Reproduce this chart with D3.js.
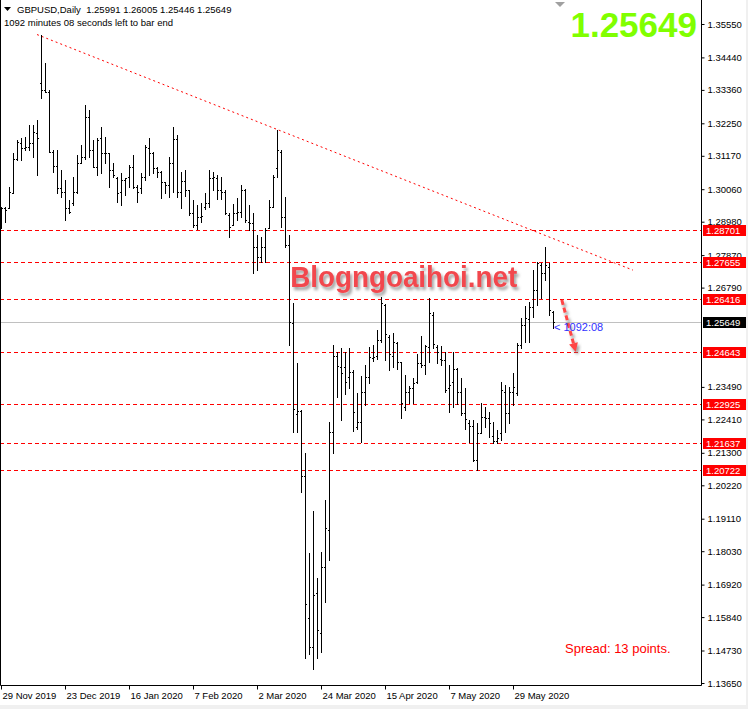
<!DOCTYPE html>
<html lang="en">
<head>
<meta charset="utf-8">
<title>GBPUSD,Daily</title>
<script src="https://cdn.jsdelivr.net/npm/d3@7"></script>
<style>
    body { margin: 0; background: #f0f0f0; }
    svg { display: block; }
    text { font-family: "Liberation Sans", Arial, sans-serif; }
</style>
</head>
<body>
<div id="chart"></div>
<script>
// daily bars, first bar 29 Nov 2019, last bar 12 Jun 2020 (one entry per trading day)
var opens = [
    1.2905, 1.2942, 1.2942, 1.2992, 1.3105, 1.3158, 1.3142, 1.3147, 1.3158, 1.3192,
    1.3358, 1.3336, 1.3330, 1.3131, 1.3083, 1.3009, 1.2998, 1.2942, 1.2959, 1.2998,
    1.3092, 1.3114, 1.3247, 1.3136, 1.3081, 1.3175, 1.3125, 1.3125, 1.3070, 1.3042,
    1.2998, 1.3037, 1.3048, 1.3081, 1.3014, 1.3009, 1.3048, 1.3142, 1.3125, 1.3075,
    1.3064, 1.3031, 1.3020, 1.3094, 1.3172, 1.2998, 1.3033, 1.3003, 1.2928, 1.2887,
    1.2915, 1.2948, 1.2961, 1.3042, 1.3042, 1.3003, 1.2998, 1.2920, 1.2887, 1.2926,
    1.2931, 1.3003, 1.2898, 1.2893, 1.2815, 1.2782, 1.2815, 1.2876, 1.2948, 1.3075,
    1.3131, 1.2915, 1.2821, 1.2560, 1.2259, 1.2268, 1.2053, 1.1580, 1.1485, 1.1665,
    1.1532, 1.1751, 1.1873, 1.2198, 1.2452, 1.2416, 1.2414, 1.2383, 1.2400, 1.2217,
    1.2231, 1.2333, 1.2383, 1.2446, 1.2452, 1.2505, 1.2621, 1.2516, 1.2452, 1.2494,
    1.2433, 1.2283, 1.2333, 1.2346, 1.2366, 1.2427, 1.2422, 1.2483, 1.2588, 1.2483,
    1.2441, 1.2438, 1.2344, 1.2366, 1.2407, 1.2333, 1.2261, 1.2228, 1.2220, 1.2106,
    1.2195, 1.2250, 1.2245, 1.2186, 1.2170, 1.2195, 1.2333, 1.2261, 1.2333, 1.2328,
    1.2488, 1.2555, 1.2574, 1.2616, 1.2671, 1.2754, 1.2726, 1.2749, 1.25991
];
var highs = [
    1.2948, 1.2948, 1.3014, 1.3125, 1.3170, 1.3175, 1.3181, 1.3219, 1.3219, 1.3236,
    1.3518, 1.3424, 1.3336, 1.3136, 1.3136, 1.3070, 1.3037, 1.2970, 1.3048, 1.3120,
    1.3153, 1.3286, 1.3269, 1.3170, 1.3175, 1.3214, 1.3181, 1.3125, 1.3092, 1.3048,
    1.3059, 1.3042, 1.3086, 1.3120, 1.3020, 1.3059, 1.3153, 1.3175, 1.3131, 1.3081,
    1.3066, 1.3031, 1.3114, 1.3214, 1.3186, 1.3064, 1.3070, 1.3003, 1.2970, 1.2953,
    1.2959, 1.2994, 1.3070, 1.3064, 1.3053, 1.3048, 1.3003, 1.2926, 1.2957, 1.2976,
    1.3020, 1.3006, 1.2953, 1.2926, 1.2854, 1.2848, 1.2876, 1.2970, 1.3053, 1.3203,
    1.3136, 1.2979, 1.2854, 1.2627, 1.2427, 1.2272, 1.2128, 1.1796, 1.1936, 1.1713,
    1.1801, 1.1973, 1.2231, 1.2488, 1.2466, 1.2477, 1.2466, 1.2477, 1.2405, 1.2328,
    1.2386, 1.2422, 1.2483, 1.2488, 1.2538, 1.2649, 1.2624, 1.2521, 1.2527, 1.2499,
    1.2433, 1.2388, 1.2352, 1.2377, 1.2460, 1.2519, 1.2488, 1.2643, 1.2599, 1.2488,
    1.2485, 1.2466, 1.2422, 1.2466, 1.2411, 1.2377, 1.2344, 1.2239, 1.2239, 1.2230,
    1.2294, 1.2283, 1.2267, 1.2233, 1.2206, 1.2366, 1.2355, 1.2350, 1.2394, 1.2494,
    1.2577, 1.2618, 1.2632, 1.2738, 1.2765, 1.2760, 1.2815, 1.2760, 1.26005
];
var lows = [
    1.2876, 1.2898, 1.2942, 1.2992, 1.3103, 1.3103, 1.3136, 1.3136, 1.3114, 1.3053,
    1.3308, 1.3330, 1.3131, 1.3064, 1.2992, 1.2981, 1.2904, 1.2926, 1.2953, 1.2992,
    1.3092, 1.3108, 1.3114, 1.3081, 1.3053, 1.3059, 1.3092, 1.3014, 1.3048, 1.2965,
    1.2953, 1.2987, 1.3014, 1.3009, 1.2965, 1.2992, 1.3037, 1.3053, 1.3059, 1.3048,
    1.2976, 1.2992, 1.2979, 1.2998, 1.2981, 1.2942, 1.2983, 1.2920, 1.2881, 1.2873,
    1.2898, 1.2939, 1.2948, 1.3003, 1.2972, 1.2972, 1.2924, 1.2848, 1.2887, 1.2904,
    1.2915, 1.2898, 1.2870, 1.2726, 1.2737, 1.2765, 1.2765, 1.2876, 1.2948, 1.3048,
    1.2881, 1.2815, 1.2488, 1.2200, 1.2200, 1.2001, 1.1449, 1.1463, 1.1410, 1.1447,
    1.1469, 1.1635, 1.1773, 1.2130, 1.2316, 1.2239, 1.2327, 1.2347, 1.2203, 1.2209,
    1.2165, 1.2289, 1.2361, 1.2435, 1.2441, 1.2497, 1.2438, 1.2405, 1.2416, 1.2407,
    1.2244, 1.2272, 1.2294, 1.2294, 1.2361, 1.2416, 1.2392, 1.2431, 1.2479, 1.2429,
    1.2422, 1.2333, 1.2267, 1.2283, 1.2291, 1.2255, 1.2209, 1.2167, 1.2104, 1.2073,
    1.2195, 1.2217, 1.2183, 1.2161, 1.2161, 1.2172, 1.2200, 1.2228, 1.2289, 1.2322,
    1.2477, 1.2499, 1.2499, 1.2582, 1.2621, 1.2643, 1.2704, 1.2588, 1.25446
];
var closes = [
    1.2942, 1.2937, 1.2996, 1.3105, 1.3164, 1.3142, 1.3147, 1.3158, 1.3197, 1.3175,
    1.3336, 1.3330, 1.3131, 1.3083, 1.3009, 1.2998, 1.2942, 1.2931, 1.2998, 1.3092,
    1.3114, 1.3247, 1.3136, 1.3081, 1.3170, 1.3125, 1.3125, 1.3070, 1.3053, 1.2992,
    1.3037, 1.3042, 1.3081, 1.3014, 1.2998, 1.3048, 1.3147, 1.3125, 1.3075, 1.3064,
    1.3031, 1.3020, 1.3094, 1.3172, 1.2998, 1.3033, 1.3003, 1.2928, 1.2887, 1.2915,
    1.2917, 1.2961, 1.3042, 1.3048, 1.3003, 1.2998, 1.2926, 1.2881, 1.2926, 1.2931,
    1.3003, 1.2904, 1.2893, 1.2815, 1.2782, 1.2815, 1.2870, 1.2948, 1.3048, 1.3136,
    1.2915, 1.2821, 1.2566, 1.2274, 1.2268, 1.2053, 1.1627, 1.1485, 1.1659, 1.1541,
    1.1751, 1.1879, 1.2198, 1.2452, 1.2418, 1.2394, 1.2366, 1.2400, 1.2267, 1.2231,
    1.2333, 1.2383, 1.2449, 1.2449, 1.2505, 1.2629, 1.2524, 1.2457, 1.2499, 1.2433,
    1.2294, 1.2333, 1.2344, 1.2363, 1.2427, 1.2422, 1.2485, 1.2593, 1.2490, 1.2466,
    1.2438, 1.2339, 1.2355, 1.2407, 1.2333, 1.2261, 1.2241, 1.2220, 1.2106, 1.2195,
    1.2250, 1.2245, 1.2228, 1.2170, 1.2178, 1.2339, 1.2263, 1.2333, 1.2350, 1.2488,
    1.2555, 1.2577, 1.2616, 1.2671, 1.2760, 1.2726, 1.2754, 1.2604, 1.25649
];

// time axis labels (bar index -> label)
var dateTicks = [0, 16, 32, 48, 64, 80, 96, 112, 128];
var dateLabels = ["29 Nov 2019", "23 Dec 2019", "16 Jan 2020", "7 Feb 2020", "2 Mar 2020",
    "24 Mar 2020", "15 Apr 2020", "7 May 2020", "29 May 2020"];

// price scale labels
var priceTicks = [1.35550, 1.34440, 1.33360, 1.32250, 1.31170, 1.30060, 1.28980, 1.27870,
    1.26790, 1.23490, 1.22410, 1.21300, 1.20220, 1.19110, 1.18030, 1.16920, 1.15840,
    1.14730, 1.13650];

// horizontal levels drawn by hand, and current bid
var levels = [1.28701, 1.27655, 1.26416, 1.24643, 1.22925, 1.21637, 1.20722];
var bid = 1.25649;

// trend line anchors (bar index, price)
var trendIdx = [9, 158];
var trendPrice = [1.3520, 1.2737];

// arrow drawn on the chart (bar index, price)
var arrowIdx = [140.2, 143.7];
var arrowPrice = [1.2638, 1.2465];

var width = 748, height = 709;
var plotRight = 701, plotBottom = 685;

var svg = d3.select("#chart").append("svg")
    .attr("width", width)
    .attr("height", height);

var defs = svg.append("defs");
var shadow = defs.append("filter").attr("id", "shadow")
    .attr("x", "-10%").attr("y", "-20%").attr("width", "130%").attr("height", "160%");
shadow.append("feDropShadow")
    .attr("dx", 2).attr("dy", 3).attr("stdDeviation", 1.6)
    .attr("flood-color", "#777").attr("flood-opacity", 0.7);

// white chart window
svg.append("rect")
    .attr("x", 0).attr("y", 0)
    .attr("width", 746).attr("height", 705)
    .attr("fill", "white");

var x = d3.scaleLinear().domain([0, 138]).range([1, 553]);
var y = d3.scaleLinear().domain([1.13650, 1.35550]).range([683, 24]);

var plot = svg.append("g");

// horizontal red levels
plot.selectAll(".level")
    .data(levels)
    .enter().append("line")
    .attr("class", "level")
    .attr("x1", 0).attr("x2", plotRight)
    .attr("y1", function(d) { return Math.round(y(d)) + 0.5; })
    .attr("y2", function(d) { return Math.round(y(d)) + 0.5; })
    .attr("stroke", "#ff0000")
    .attr("stroke-width", 1)
    .attr("stroke-dasharray", "4,3");

// trend line
plot.append("line")
    .attr("x1", x(trendIdx[0])).attr("y1", y(trendPrice[0]))
    .attr("x2", x(trendIdx[1])).attr("y2", y(trendPrice[1]))
    .attr("stroke", "#ff0000")
    .attr("stroke-width", 1)
    .attr("stroke-dasharray", "2,3");

// bid line
plot.append("line")
    .attr("x1", 0).attr("x2", plotRight)
    .attr("y1", Math.round(y(bid)) + 0.5).attr("y2", Math.round(y(bid)) + 0.5)
    .attr("stroke", "#c0c0c0");

// OHLC bars
var idx = d3.range(opens.length);
var bars = plot.selectAll(".bar")
    .data(idx)
    .enter().append("g")
    .attr("class", "bar")
    .attr("fill", "black");

bars.append("rect")
    .attr("x", function(i) { return Math.round(x(i)); })
    .attr("y", function(i) { return Math.round(y(highs[i])); })
    .attr("width", 1)
    .attr("height", function(i) { return Math.round(y(lows[i])) - Math.round(y(highs[i])) + 1; });
bars.append("rect")
    .attr("x", function(i) { return Math.round(x(i)) - 1; })
    .attr("y", function(i) { return Math.round(y(opens[i])); })
    .attr("width", 1).attr("height", 1);
bars.append("rect")
    .attr("x", function(i) { return Math.round(x(i)) + 1; })
    .attr("y", function(i) { return Math.round(y(closes[i])); })
    .attr("width", 1).attr("height", 1);

// watermark
svg.append("text")
    .attr("x", x(72.3)).attr("y", y(1.2681))
    .attr("font-size", 29)
    .attr("font-weight", "bold")
    .attr("fill", "#f2474d")
    .attr("textLength", 227)
    .attr("lengthAdjust", "spacingAndGlyphs")
    .attr("filter", "url(#shadow)")
    .text("Blogngoaihoi.net");

// dashed arrow
var ax1 = x(arrowIdx[0]), ay1 = y(arrowPrice[0]);
var ax2 = x(arrowIdx[1]), ay2 = y(arrowPrice[1]);
var ang = Math.atan2(ay2 - ay1, ax2 - ax1);
var headLen = 9, headW = 4.5;
var bx = ax2 - headLen * Math.cos(ang), by = ay2 - headLen * Math.sin(ang);
var arrow = svg.append("g").attr("filter", "url(#shadow)");
arrow.append("line")
    .attr("x1", ax1).attr("y1", ay1).attr("x2", bx).attr("y2", by)
    .attr("stroke", "#ff4444").attr("stroke-width", 3)
    .attr("stroke-dasharray", "5,3");
arrow.append("path")
    .attr("d", "M" + ax2 + "," + ay2 +
        "L" + (bx + headW * Math.sin(ang)) + "," + (by - headW * Math.cos(ang)) +
        "L" + (bx - headW * Math.sin(ang)) + "," + (by + headW * Math.cos(ang)) + "Z")
    .attr("fill", "#ff4444");

// countdown next to last bar
svg.append("text")
    .attr("x", x(138) + 1).attr("y", y(bid) + 9)
    .attr("font-family", "DejaVu Sans")
    .attr("font-size", 11)
    .attr("fill", "#3030ff")
    .text("< 1092:08");

// frame
svg.append("path")
    .attr("d", "M0.5,0V" + (plotBottom + 0.5) + "H" + (plotRight + 0.5) + "V0")
    .attr("fill", "none")
    .attr("stroke", "black");

// price axis
var yAxis = svg.append("g")
    .attr("transform", "translate(" + (plotRight + 0.5) + ",0)")
    .call(d3.axisRight(y).tickValues(priceTicks).tickSize(3).tickPadding(3)
        .tickFormat(d3.format(".5f")));
yAxis.select(".domain").remove();
yAxis.selectAll("text")
    .attr("font-family", "Liberation Sans, Arial, sans-serif")
    .attr("font-size", 9.5)
    .attr("fill", "black");

// time axis
var xAxis = svg.append("g")
    .attr("transform", "translate(0," + (plotBottom + 0.5) + ")")
    .call(d3.axisBottom(x).tickValues(dateTicks).tickSize(4)
        .tickFormat(function(d, i) { return dateLabels[i]; }));
xAxis.select(".domain").remove();
xAxis.selectAll("text")
    .attr("font-family", "Liberation Sans, Arial, sans-serif")
    .attr("font-size", 9.5)
    .attr("fill", "black")
    .attr("text-anchor", "start")
    .attr("dx", "0.1em")
    .attr("y", 7);

// price labels on the scale
var tags = levels.map(function(d) { return {v: d, bg: "#ff0000"}; });
tags.push({v: bid, bg: "black"});
var tag = svg.selectAll(".tag")
    .data(tags)
    .enter().append("g")
    .attr("class", "tag")
    .attr("transform", function(d) { return "translate(703," + Math.round(y(d.v)) + ")"; });
tag.append("rect")
    .attr("x", 0).attr("y", -5)
    .attr("width", 43).attr("height", 11)
    .attr("fill", function(d) { return d.bg; });
tag.append("text")
    .attr("x", 3).attr("y", 4)
    .attr("font-size", 9.5)
    .attr("fill", "white")
    .text(function(d) { return d3.format(".5f")(d.v); });

// header
svg.append("path")
    .attr("d", "M4,7H11L7.5,11Z")
    .attr("fill", "black");
svg.append("text")
    .attr("x", 17).attr("y", 13)
    .attr("font-size", 9.5)
    .attr("xml:space", "preserve")
    .text("GBPUSD,Daily  1.25991 1.26005 1.25446 1.25649");
svg.append("text")
    .attr("x", 4).attr("y", 26)
    .attr("font-size", 9.5)
    .text("1092 minutes 08 seconds left to bar end");

// chart shift marker
svg.append("path")
    .attr("d", "M555,2H565L560,7Z")
    .attr("fill", "#a0a0a0");

// big bid
svg.append("text")
    .attr("x", 697).attr("y", 37)
    .attr("text-anchor", "end")
    .attr("font-size", 35)
    .attr("font-weight", "bold")
    .attr("fill", "#80ff00")
    .text("1.25649");

// spread
svg.append("text")
    .attr("x", 565).attr("y", 653)
    .attr("font-size", 13)
    .attr("fill", "#ff0000")
    .text("Spread: 13 points.");
</script>
</body>
</html>
